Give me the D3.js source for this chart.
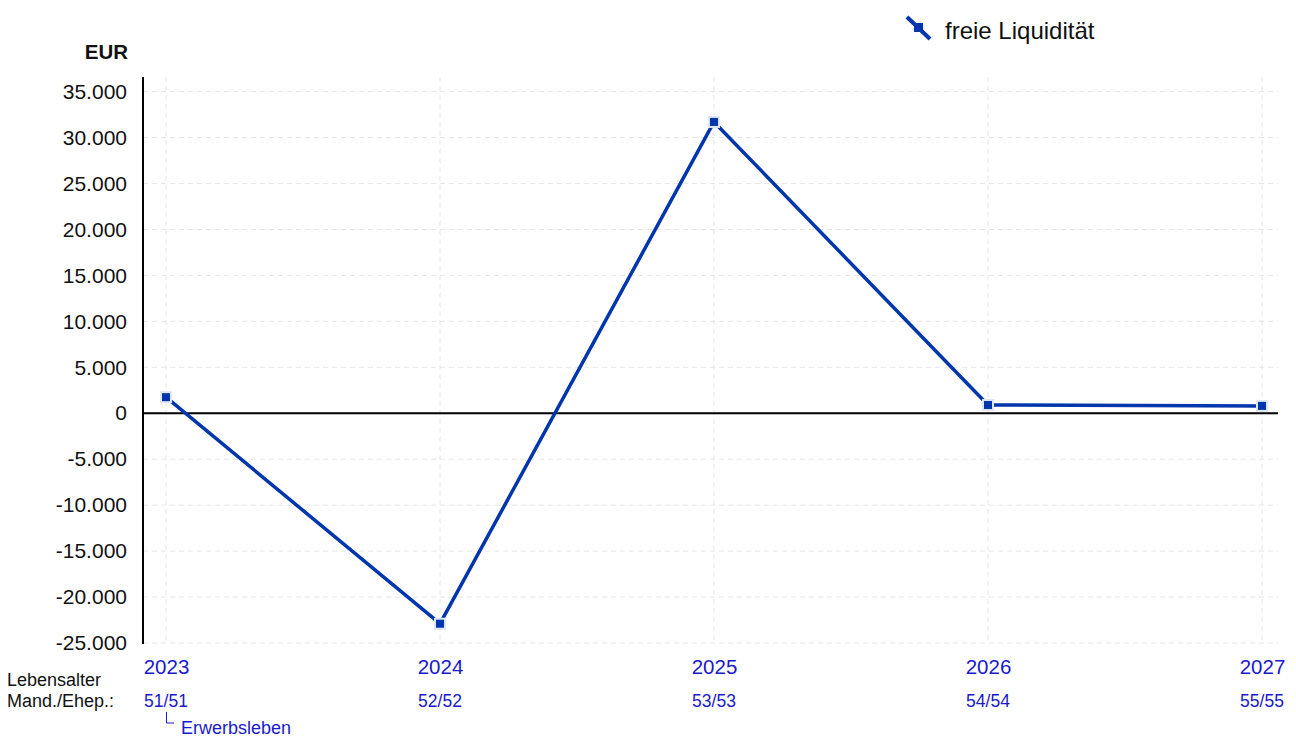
<!DOCTYPE html>
<html>
<head>
<meta charset="utf-8">
<script src="https://cdn.jsdelivr.net/npm/d3@7"></script>
<style>
  body { margin: 0; background: #fff; }
  text { font-family: "Liberation Sans", Arial, sans-serif; }
</style>
</head>
<body>
<div id="plot"></div>
<script>
var w = 1296;
var h = 738;

// Data
var years = ['2023', '2024', '2025', '2026', '2027'];
var ages = ['51/51', '52/52', '53/53', '54/54', '55/55'];
var liquiditaet = [1750, -22900, 31700, 900, 800];
var yTicks = [-25000, -20000, -15000, -10000, -5000, 0, 5000, 10000, 15000, 20000, 25000, 30000, 35000];

var lineColor = '#0036ad';
var labelBlue = '#1a1acc';

// plot area
var pLeft = 143, pRight = 1278, pTop = 77, pBottom = 644;

var x = d3.scalePoint()
  .domain(years)
  .range([166, 1262]);

var y = d3.scaleLinear()
  .domain([-25000, 35000])
  .range([643, 91.6]);

var fmt = d3.formatLocale({ decimal: ',', thousands: '.', grouping: [3], currency: ['', '€'], minus: '-' }).format(',d');

var svg = d3.select('#plot').append('svg')
  .attr('width', w)
  .attr('height', h);

// horizontal grid
svg.append('g')
  .selectAll('line')
  .data(yTicks)
  .enter()
  .append('line')
  .attr('x1', pLeft)
  .attr('x2', pRight)
  .attr('y1', function (d) { return y(d); })
  .attr('y2', function (d) { return y(d); })
  .attr('stroke', '#e6e6e6')
  .attr('stroke-dasharray', '5,4');

// vertical grid
svg.append('g')
  .selectAll('line')
  .data(years)
  .enter()
  .append('line')
  .attr('x1', function (d) { return x(d); })
  .attr('x2', function (d) { return x(d); })
  .attr('y1', pTop)
  .attr('y2', pBottom)
  .attr('stroke', '#e6e6e6')
  .attr('stroke-dasharray', '5,4');

// y axis
var yAxis = d3.axisLeft(y)
  .tickValues(yTicks)
  .tickSize(0)
  .tickPadding(16)
  .tickFormat(function (d) { return fmt(d); });

var ya = svg.append('g')
  .attr('transform', 'translate(' + pLeft + ',0)')
  .call(yAxis);
ya.select('.domain').remove();
ya.selectAll('text')
  .attr('font-size', '21px')
  .attr('font-family', '"Liberation Sans", Arial, sans-serif')
  .attr('fill', '#111');

svg.append('line')
  .attr('x1', pLeft).attr('x2', pLeft)
  .attr('y1', pTop).attr('y2', pBottom)
  .attr('stroke', '#000')
  .attr('stroke-width', 2);

// zero line
svg.append('line')
  .attr('x1', pLeft).attr('x2', pRight)
  .attr('y1', y(0)).attr('y2', y(0))
  .attr('stroke', '#000')
  .attr('stroke-width', 2);

// unit
svg.append('text')
  .attr('x', 128)
  .attr('y', 59)
  .attr('text-anchor', 'end')
  .attr('font-size', '20.5px')
  .attr('font-weight', 'bold')
  .attr('fill', '#111')
  .text('EUR');

// x axis labels
var xAxis = d3.axisBottom(x)
  .tickSize(0)
  .tickPadding(0);

var xa = svg.append('g')
  .attr('transform', 'translate(0,674)')
  .call(xAxis);
xa.select('.domain').remove();
xa.selectAll('text')
  .attr('dy', null)
  .attr('y', 0)
  .attr('font-size', '20.5px')
  .attr('font-family', '"Liberation Sans", Arial, sans-serif')
  .attr('fill', labelBlue);

// ages
svg.append('g')
  .selectAll('text')
  .data(years)
  .enter()
  .append('text')
  .attr('x', function (d) { return x(d); })
  .attr('y', 707)
  .attr('text-anchor', 'middle')
  .attr('font-size', '17.5px')
  .attr('fill', labelBlue)
  .text(function (d, i) { return ages[i]; });

svg.append('text')
  .attr('x', 7).attr('y', 686)
  .attr('font-size', '18px')
  .attr('fill', '#111')
  .text('Lebensalter');
svg.append('text')
  .attr('x', 7).attr('y', 707)
  .attr('font-size', '18px')
  .attr('fill', '#111')
  .text('Mand./Ehep.:');

// Erwerbsleben marker
svg.append('path')
  .attr('d', 'M' + (x('2023') + 0.5) + ',712 V723 H174')
  .attr('fill', 'none')
  .attr('stroke', labelBlue)
  .attr('stroke-width', 1);
svg.append('text')
  .attr('x', 181).attr('y', 734)
  .attr('font-size', '18px')
  .attr('fill', labelBlue)
  .text('Erwerbsleben');

// line
var line = d3.line()
  .x(function (d, i) { return x(years[i]); })
  .y(function (d) { return y(d); });

svg.append('path')
  .datum(liquiditaet)
  .attr('d', line)
  .attr('fill', 'none')
  .attr('stroke', lineColor)
  .attr('stroke-width', 3.5)
  .attr('stroke-linejoin', 'round');

// markers
svg.append('g')
  .selectAll('rect')
  .data(liquiditaet)
  .enter()
  .append('rect')
  .attr('x', function (d, i) { return x(years[i]) - 5; })
  .attr('y', function (d) { return y(d) - 5; })
  .attr('width', 10)
  .attr('height', 10)
  .attr('fill', lineColor)
  .attr('stroke', '#dfe6f7')
  .attr('stroke-width', 2);

// legend
var lg = svg.append('g');
lg.append('line')
  .attr('x1', 907).attr('y1', 17)
  .attr('x2', 930).attr('y2', 39)
  .attr('stroke', lineColor)
  .attr('stroke-width', 4);
lg.append('rect')
  .attr('x', 914).attr('y', 23)
  .attr('width', 9).attr('height', 9)
  .attr('fill', lineColor);
lg.append('text')
  .attr('x', 945).attr('y', 39)
  .attr('font-size', '24px')
  .attr('fill', '#111')
  .text('freie Liquidität');
</script>
</body>
</html>
